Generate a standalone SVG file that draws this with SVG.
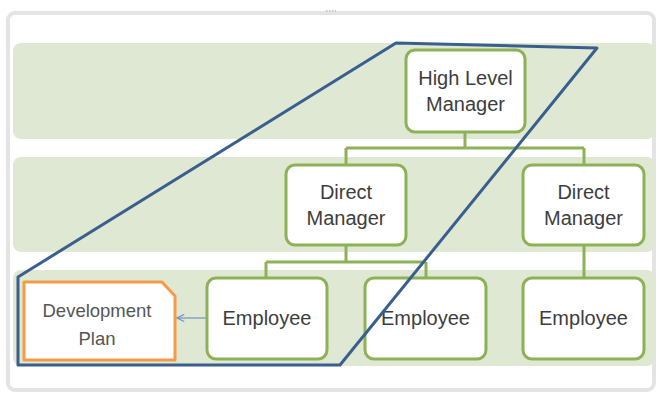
<svg xmlns="http://www.w3.org/2000/svg" width="660" height="396" viewBox="0 0 660 396">
<defs>
<style>
.band{fill:#dfe8d3}
.box{fill:#fff;stroke:#8db157;stroke-width:3}
.lbl{font-family:"Liberation Sans",Arial,sans-serif;font-size:20px;fill:#3d3d3d;text-anchor:middle}
.con{fill:none;stroke:#8db157;stroke-width:3}
</style>
<marker id="ah" viewBox="0 0 10 10" refX="9" refY="5" markerWidth="9" markerHeight="9" orient="auto" markerUnits="userSpaceOnUse">
<path d="M1,1 L9,5 L1,9" fill="none" stroke="#6f93c4" stroke-width="1.3"/>
</marker>
</defs>
<rect x="0" y="0" width="660" height="396" fill="#fff"/>
<rect x="8" y="13" width="646" height="377" rx="7" fill="#fff" stroke="#e4e4e4" stroke-width="4"/>
<line x1="326" y1="11" x2="336" y2="11" stroke="#c8c8c8" stroke-width="2" stroke-dasharray="1.5,1.5"/>
<g id="bands">
<rect class="band" x="13" y="43" width="642" height="96" rx="8"/>
<rect class="band" x="13" y="157" width="642" height="95" rx="8"/>
<rect class="band" x="13" y="270" width="642" height="96" rx="8"/>
</g>
<g id="connectors">
<path class="con" d="M465,132 V148 M346,148 H584 M346,148 V165 M584,148 V165"/>
<path class="con" d="M346,245 V262 M266,262 H426 M266,262 V278 M426,262 V278"/>
<path class="con" d="M584,245 V278"/>
<line x1="206" y1="318" x2="177" y2="318" stroke="#6f93c4" stroke-width="1.2" marker-end="url(#ah)"/>
</g>
<g id="hlm">
<rect class="box" x="406" y="50" width="119" height="82" rx="9"/>
<text class="lbl" x="465.5" y="85">High Level</text>
<text class="lbl" x="465.5" y="111">Manager</text>
</g>
<g id="dm1">
<rect class="box" x="286" y="165" width="120" height="80" rx="9"/>
<text class="lbl" x="346" y="199">Direct</text>
<text class="lbl" x="346" y="225">Manager</text>
</g>
<g id="dm2">
<rect class="box" x="523" y="165" width="121" height="80" rx="9"/>
<text class="lbl" x="583.5" y="199">Direct</text>
<text class="lbl" x="583.5" y="225">Manager</text>
</g>
<g id="emp1">
<rect class="box" x="207" y="278" width="120" height="81" rx="9"/>
<text class="lbl" x="267" y="325">Employee</text>
</g>
<g id="emp2">
<rect class="box" x="365" y="278" width="121" height="81" rx="9"/>
<text class="lbl" x="425.5" y="325">Employee</text>
</g>
<g id="emp3">
<rect class="box" x="523" y="278" width="121" height="81" rx="9"/>
<text class="lbl" x="583.5" y="325">Employee</text>
</g>
<g id="devplan">
<path d="M24,282 H162 L175,296 V360 H24 Z" fill="#fff" stroke="#f79a46" stroke-width="3" stroke-linejoin="round"/>
<text class="lbl" x="97" y="317" style="font-size:18.5px;fill:#555">Development</text>
<text class="lbl" x="97" y="345" style="font-size:18.5px;fill:#555">Plan</text>
</g>
<g id="scope">
<polygon points="18,277 396,43 597,48 340,365 18,365" fill="none" stroke="#3a5f8f" stroke-width="3" stroke-linejoin="round"/>
</g>
</svg>
